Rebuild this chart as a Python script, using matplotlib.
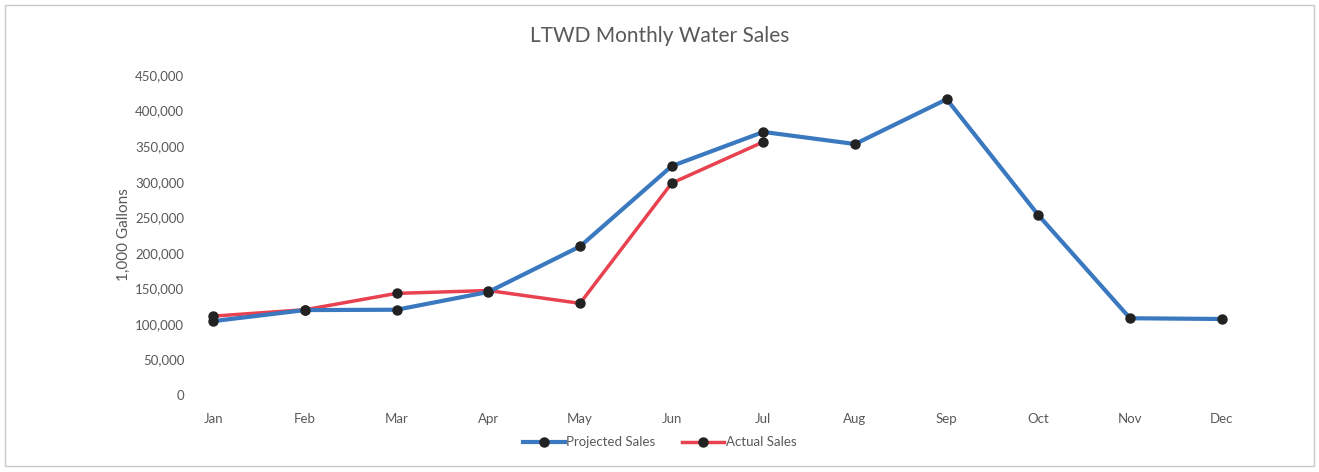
import matplotlib
matplotlib.use('Agg')
import matplotlib.pyplot as plt
from matplotlib.patches import Rectangle
from matplotlib.ticker import FuncFormatter

plt.rcParams['font.family'] = ['Lato', 'DejaVu Sans']

# data
months = ['Jan', 'Feb', 'Mar', 'Apr', 'May', 'Jun', 'Jul', 'Aug', 'Sep', 'Oct', 'Nov', 'Dec']
projected = [104000, 119500, 120000, 145000, 209000, 322000, 370000, 353000, 416000, 253000, 108000, 107000]
actual = [111000, 120000, 143000, 147000, 129000, 298000, 356000]

gray = '#595959'

fig = plt.figure(figsize=(13.19, 4.72), dpi=100)
ax = fig.add_axes([0.127, 0.163, 0.834, 0.678])

x = list(range(len(months)))
ax.plot(x, projected, color='#3a78c0', lw=3, marker='o', ms=6.5,
        mfc='#222222', mec='#222222', label='Projected Sales', zorder=3)
ax.plot(x[:len(actual)], actual, color='#e8414f', lw=2.5, marker='o', ms=6.5,
        mfc='#222222', mec='#222222', label='Actual Sales', zorder=2)

ax.set_xlim(-0.5, len(months) - 0.5)
ax.set_ylim(0, 450000)
ax.set_yticks(range(0, 450001, 50000))
ax.yaxis.set_major_formatter(FuncFormatter(lambda v, p: f'{int(v):,}'))
ax.set_xticks(x)
ax.set_xticklabels(months)
for s in ax.spines.values():
    s.set_visible(False)
ax.tick_params(length=0, colors=gray, labelsize=9.5)
ax.tick_params(axis='y', pad=-12)
ax.tick_params(axis='x', pad=13)
ax.set_ylabel('1,000 Gallons', color=gray, fontsize=11, labelpad=3)

fig.suptitle('LTWD Monthly Water Sales', color=gray, fontsize=15, y=0.945)

fig.legend(loc='center', bbox_to_anchor=(0.5, 0.063), ncol=2, frameon=False,
           fontsize=9.5, labelcolor=gray, handlelength=3.2, columnspacing=2.0,
           handletextpad=0.1)

fig.patches.append(Rectangle((0.004, 0.012), 0.992, 0.978, transform=fig.transFigure,
                             fill=False, ec='#c8c8c8', lw=1))

fig.savefig('out.png', dpi=100)
